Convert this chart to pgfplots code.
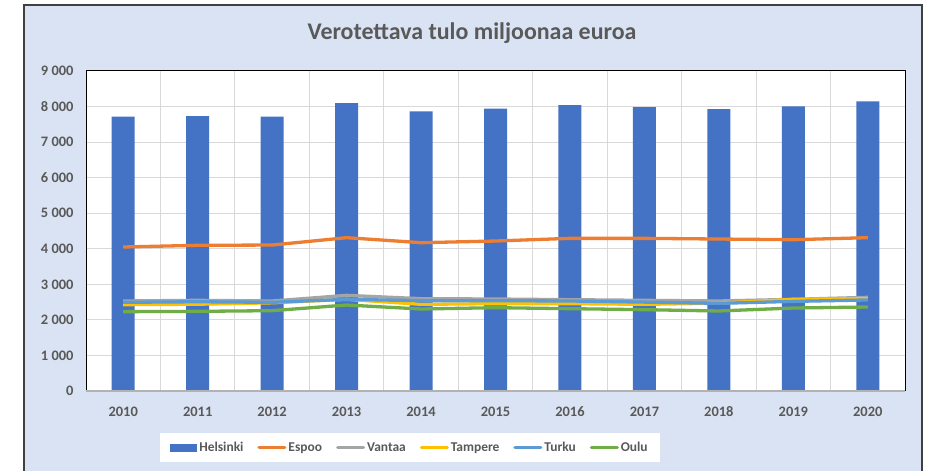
\documentclass[border=0pt]{standalone}
\usepackage{pgfplots}
\pgfplotsset{compat=1.18}
\usepackage{fontspec}
\setmainfont{Carlito}
\definecolor{bgblue}{HTML}{DAE3F3}
\definecolor{txtgray}{HTML}{595959}
\definecolor{cHel}{HTML}{4472C4}
\definecolor{cEsp}{HTML}{ED7D31}
\definecolor{cVan}{HTML}{A5A5A5}
\definecolor{cTam}{HTML}{FFC000}
\definecolor{cTur}{HTML}{5B9BD5}
\definecolor{cOul}{HTML}{70AD47}
\definecolor{gridc}{HTML}{D9D9D9}
\begin{document}
\begin{tikzpicture}[x=1bp,y=1bp]
\useasboundingbox (0,0) rectangle (927,471);
\fill[white] (0,0) rectangle (927,471);
\filldraw[fill=bgblue, draw=black!75, line width=1.2bp] (24,-10) rectangle (922,466);
\node[font=\bfseries\fontsize{24}{28}\selectfont, text=txtgray] at (472,438) {Verotettava tulo miljoonaa euroa};
\begin{axis}[
  at={(86bp,80bp)}, anchor=south west,
  scale only axis, width=819bp, height=320bp,
  axis background/.style={fill=white},
  xmin=-0.5, xmax=10.5, ymin=0, ymax=9000,
  xtick={0,...,10},
  xticklabels={2010,2011,2012,2013,2014,2015,2016,2017,2018,2019,2020},
  minor xtick={-0.5,0.5,...,10.5},
  ytick={0,1000,...,9000},
  yticklabels={0,1 000,2 000,3 000,4 000,5 000,6 000,7 000,8 000,9 000},
  major tick length=0pt, minor tick length=0pt,
  ymajorgrids, xminorgrids,
  grid style={gridc, line width=1bp},
  minor grid style={gridc, line width=1bp},
  axis line style={black, line width=1bp},
  tick label style={font=\bfseries\fontsize{14.5}{16}\selectfont, text=txtgray},
  yticklabel style={xshift=-9bp},
  xticklabel style={anchor=base, yshift=-26bp},
  /pgf/number format/assume math mode=true,
  legend columns=6,
  legend style={at={(0.3956,-0.177)}, anchor=center, draw=none, fill=white,
    font=\bfseries\fontsize{13.5}{15}\selectfont, text=txtgray,
    inner xsep=10bp, inner ysep=7bp,
    /tikz/every even column/.append style={column sep=12bp}},
  legend cell align=left,
  after end axis/.code={\draw[black!30, line width=1.2bp] (rel axis cs:0,0) -- (rel axis cs:1,0);},
]
\addplot[ybar, bar width=23bp, bar shift=0pt, fill=cHel, draw=none,
  area legend, legend image code/.code={\fill[cHel] (0bp,-4bp) rectangle (27bp,4bp);}]
  coordinates {(0,7714) (1,7733) (2,7714) (3,8099) (4,7865) (5,7939) (6,8043) (7,7987) (8,7930) (9,8006) (10,8147)};
\addlegendentry{Helsinki}
\pgfplotsset{every axis plot/.append style={line width=3.3bp, line join=round, mark=none,
  legend image code/.code={\draw[#1, line width=3bp, line cap=round] (0bp,0bp) -- (26bp,0bp);}}}
\addplot[cEsp, line width=3.3bp, line join=round] coordinates {(0,4050) (1,4097) (2,4105) (3,4312) (4,4171) (5,4218) (6,4293) (7,4293) (8,4274) (9,4255) (10,4312)};
\addlegendentry{Espoo}
\addplot[cVan, line width=3.3bp, line join=round] coordinates {(0,2531) (1,2550) (2,2531) (3,2690) (4,2597) (5,2587) (6,2568) (7,2550) (8,2531) (9,2578) (10,2634)};
\addlegendentry{Vantaa}
\addplot[cTam, line width=3.3bp, line join=round] coordinates {(0,2428) (1,2440) (2,2480) (3,2578) (4,2437) (5,2456) (6,2456) (7,2437) (8,2470) (9,2578) (10,2597)};
\addlegendentry{Tampere}
\addplot[cTur, line width=3.3bp, line join=round] coordinates {(0,2494) (1,2510) (2,2494) (3,2578) (4,2540) (5,2540) (6,2531) (7,2500) (8,2465) (9,2520) (10,2560)};
\addlegendentry{Turku}
\addplot[cOul, line width=3.3bp, line join=round] coordinates {(0,2231) (1,2240) (2,2259) (3,2418) (4,2306) (5,2343) (6,2315) (7,2287) (8,2250) (9,2334) (10,2362)};
\addlegendentry{Oulu}
\end{axis}
\end{tikzpicture}
\end{document}
